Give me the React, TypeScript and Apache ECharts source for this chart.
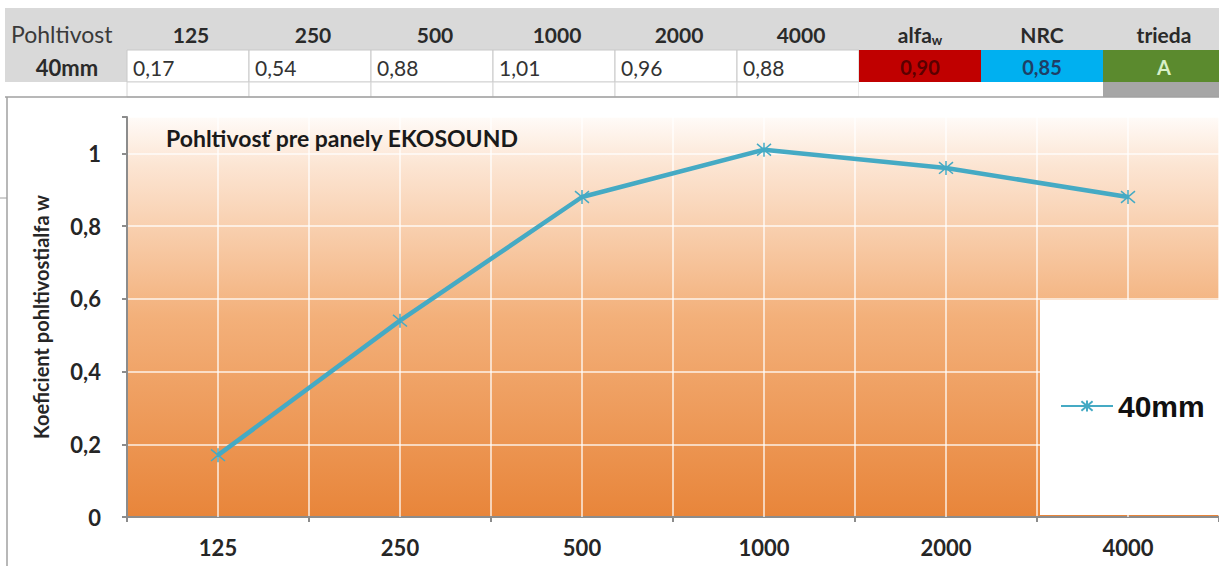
import React, { useEffect, useRef } from 'react';
import * as echarts from 'echarts';

const categories = ['125', '250', '500', '1000', '2000', '4000'];
const absorption40mm = [0.17, 0.54, 0.88, 1.01, 0.96, 0.88];
const seriesName = '40mm';
const tableCorner = 'Pohltivost';
const tableValues = ['0,17', '0,54', '0,88', '1,01', '0,96', '0,88'];
const summaryHeaders = ['alfa', 'NRC', 'trieda'];
const summaryValues = ['0,90', '0,85', 'A'];
const chartTitle = 'Pohltivosť pre panely EKOSOUND';
const yAxisTitle = 'Koeficient pohltivostialfa w';

const FONT = 'Lato';
const COL0 = 127;
const COLW = 122;

function buildTable(): any[] {
  const els: any[] = [];
  els.push({ type: 'rect', shape: { x: 5, y: 8, width: 1214, height: 42 }, style: { fill: '#D9D9D9' } });
  els.push({ type: 'rect', shape: { x: 5, y: 50, width: COL0 - 5, height: 32 }, style: { fill: '#D9D9D9' } });
  els.push({
    type: 'text', x: 11, y: 34,
    style: { text: tableCorner, font: `400 23px ${FONT}`, fill: '#3a3a3a', verticalAlign: 'middle', align: 'left' },
  });
  els.push({
    type: 'text', x: 67, y: 67,
    style: { text: seriesName, font: `700 22px ${FONT}`, fill: '#2a2a2a', verticalAlign: 'middle', align: 'center' },
  });
  categories.forEach((c, i) => {
    const x0 = COL0 + i * COLW;
    els.push({ type: 'text', x: x0 + COLW / 2 + 3, y: 34, style: { text: c, font: `700 21px ${FONT}`, fill: '#2a2a2a', verticalAlign: 'middle', align: 'center' } });
    els.push({ type: 'rect', shape: { x: x0, y: 50, width: COLW, height: 32 }, style: { fill: '#fff', stroke: '#C8C8C8', lineWidth: 1 } });
    els.push({ type: 'rect', shape: { x: x0, y: 82, width: COLW, height: 15 }, style: { fill: '#fff', stroke: '#D4D4D4', lineWidth: 1 } });
    els.push({ type: 'text', x: x0 + 6, y: 67, style: { text: tableValues[i], font: `400 21px ${FONT}`, fill: '#333', verticalAlign: 'middle', align: 'left' } });
  });
  const sumFills = ['#C00000', '#00B0F0', '#5B8A2E'];
  const sumText = ['#5A0000', '#1F3F66', '#D8F0C8'];
  summaryHeaders.forEach((h, j) => {
    const x0 = COL0 + (6 + j) * COLW;
    const head = j === 0 ? `{a|${h}}{s|w}` : `{a|${h}}`;
    els.push({
      type: 'text', x: x0 + COLW / 2, y: 34,
      style: {
        text: head, verticalAlign: 'middle', align: 'center',
        rich: {
          a: { font: `700 21px ${FONT}`, fill: '#2a2a2a', color: '#2a2a2a' },
          s: { font: `700 13px ${FONT}`, fill: '#2a2a2a', color: '#2a2a2a', padding: [12, 0, 0, 0] },
        },
      },
    });
    els.push({ type: 'rect', shape: { x: x0, y: 50, width: COLW, height: 32 }, style: { fill: sumFills[j] } });
    els.push({ type: 'rect', shape: { x: x0, y: 82, width: COLW, height: 15 }, style: { fill: j === 2 ? '#A6A6A6' : '#fff' } });
    els.push({ type: 'text', x: x0 + COLW / 2, y: 67, style: { text: summaryValues[j], font: `700 20px ${FONT}`, fill: sumText[j], verticalAlign: 'middle', align: 'center' } });
  });
  els.push({ type: 'line', shape: { x1: 5, y1: 97, x2: 1219, y2: 97 }, style: { stroke: '#A0A0A0', lineWidth: 1.5 } });
  els.push({ type: 'line', shape: { x1: 7, y1: 97, x2: 7, y2: 566 }, style: { stroke: '#A0A0A0', lineWidth: 1.5 } });
  els.push({ type: 'line', shape: { x1: 0, y1: 198, x2: 7, y2: 198 }, style: { stroke: '#A0A0A0', lineWidth: 1 } });
  return els;
}

export default function App() {
  const ref = useRef<HTMLDivElement>(null);
  useEffect(() => {
    const chart = echarts.init(ref.current!, null, { renderer: 'svg' });
    const white = 'rgba(255,255,255,0.85)';
    const option: any = {
      animation: false,
      backgroundColor: '#fff',
      title: {
        text: chartTitle, left: 166, top: 126, padding: 0,
        textStyle: { fontSize: 23, fontWeight: 'bold', fontFamily: FONT, color: '#1a1a1a' },
      },
      legend: {
        data: [seriesName], left: 1040, top: 300, padding: [91, 200, 94, 20],
        backgroundColor: '#fff', itemWidth: 52, itemHeight: 14,
        textStyle: { fontSize: 30, fontWeight: 'bold', fontFamily: 'Liberation Sans', color: '#111' },
      },
      grid: {
        left: 127, top: 117, width: 1104, height: 400, show: true, borderWidth: 0,
        backgroundColor: new echarts.graphic.LinearGradient(0, 0, 0, 1, [
          { offset: 0, color: '#FFFBF8' },
          { offset: 0.12, color: '#FCE5D3' },
          { offset: 0.5, color: '#F3B07A' },
          { offset: 1, color: '#E8853A' },
        ]),
      },
      xAxis: {
        type: 'category', data: categories, boundaryGap: true,
        axisLine: { lineStyle: { color: '#8C8C8C', width: 2 } },
        axisTick: { show: true, length: 5, lineStyle: { color: '#8C8C8C', width: 2 } },
        axisLabel: { fontSize: 22, fontWeight: 'bold', fontFamily: FONT, color: '#262626', margin: 19 },
        splitLine: { show: true, lineStyle: { color: white, width: 1.5 } },
      },
      yAxis: {
        type: 'value', min: 0, max: 1.1, interval: 0.2,
        name: yAxisTitle, nameLocation: 'middle', nameGap: 76, nameRotate: 90,
        nameTextStyle: { fontSize: 20, fontWeight: 'bold', fontFamily: FONT, color: '#262626' },
        axisLine: { show: true, lineStyle: { color: '#8C8C8C', width: 2 } },
        axisTick: { show: true, length: 5, lineStyle: { color: '#8C8C8C', width: 2 } },
        axisLabel: {
          fontSize: 22, fontWeight: 'bold', fontFamily: FONT, color: '#262626', margin: 26,
          formatter: (v: number) => (v > 1.05 ? '' : String(Math.round(v * 10) / 10).replace('.', ',')),
        },
        splitLine: { show: true, lineStyle: { color: white, width: 1.5 } },
      },
      series: [
        {
          type: 'line', name: seriesName, data: absorption40mm, z: 3,
          lineStyle: { color: '#45AAC4', width: 4.5 },
          symbol: 'path://M0 0L10 10M10 0L0 10M5 -1L5 11',
          symbolSize: 14,
          itemStyle: { color: '#45AAC4', borderColor: '#45AAC4', borderWidth: 1.5 },
          markLine: {
            silent: true, symbol: 'none', z: 1, animation: false,
            label: { show: false },
            lineStyle: { color: white, width: 1.5, type: 'solid' },
            data: categories.map((c) => ({ xAxis: c })),
          },
        },
      ],
      graphic: buildTable(),
    };
    chart.setOption(option);
    return () => chart.dispose();
  }, []);
  return (
    <div
      ref={ref}
      style={{ position: 'fixed', left: 0, top: 0, width: 1219, height: 566, background: '#fff' }}
    />
  );
}
